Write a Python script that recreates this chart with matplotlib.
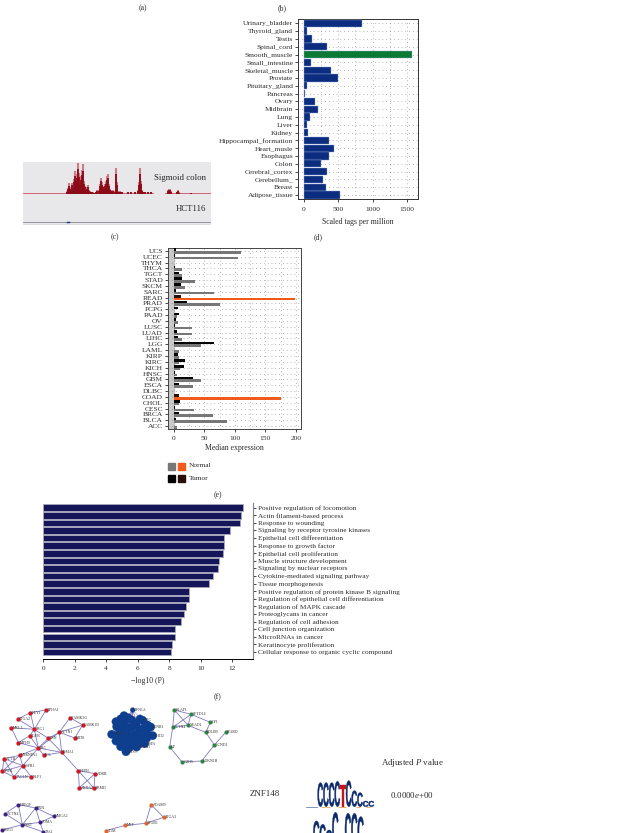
import matplotlib
matplotlib.use('Agg')
import matplotlib.pyplot as plt
import numpy as np
from matplotlib.font_manager import FontProperties
from matplotlib.patches import PathPatch
from matplotlib.textpath import TextPath
from matplotlib.transforms import Affine2D

plt.rcParams['font.family'] = 'Liberation Serif'
plt.rcParams['mathtext.fontset'] = 'custom'
plt.rcParams['mathtext.rm'] = 'Liberation Serif'
plt.rcParams['mathtext.it'] = 'Liberation Serif:italic'

W, H = 624, 833

# panel d: tissues
tissues = ['Urinary_bladder', 'Thyroid_gland', 'Testis', 'Spinal_cord', 'Smooth_muscle',
           'Small_intestine', 'Skeletal_muscle', 'Prostate', 'Pituitary_gland', 'Pancreas',
           'Ovary', 'Midbrain', 'Lung', 'Liver', 'Kidney', 'Hippocampal_formation',
           'Heart_musle', 'Esophagus', 'Colon', 'Cerebral_cortex', 'Cerebellum_', 'Breast',
           'Adipose_tissue']
tags = [845, 48, 121, 340, 1578, 102, 388, 500, 39, 10, 160, 204, 92, 48, 58, 364, 432,
        364, 248, 335, 282, 325, 519]

# panel c/d lower: cancer types
cancers = ['UCS', 'UCEC', 'THYM', 'THCA', 'TGCT', 'STAD', 'SKCM', 'SARC', 'READ', 'PRAD',
           'PCPG', 'PAAD', 'OV', 'LUSC', 'LUAD', 'LIHC', 'LGG', 'LAML', 'KIRP', 'KIRC',
           'KICH', 'HNSC', 'GBM', 'ESCA', 'DLBC', 'COAD', 'CHOL', 'CESC', 'BRCA', 'BLCA', 'ACC']
tumor = [4, 2, 1, 2, 9, 13, 12, 4, 12, 22, 7, 8, 4, 2, 5, 7, 66, 1, 7, 18, 16, 2, 32, 9, 1,
         9, 10, 2, 9, 3, 1]
normal = [110, 106, 0.5, 13, 14, 34, 19, 66, 198, 75, 1, 5, 7, 30, 30, 13, 44, 8, 8, 8, 10,
          6, 44, 31, 0.5, 176, 9, 33, 64, 88, 6]
highlight = ['READ', 'COAD']

# panel e: enrichment
terms = ['Positive regulation of locomotion', 'Actin filament-based process',
         'Response to wounding', 'Signaling by receptor tyrosine kinases',
         'Epithelial cell differentiation', 'Response to growth factor',
         'Epithelial cell proliferation', 'Muscle structure development',
         'Signaling by nuclear receptors', 'Cytokine-mediated signaling pathway',
         'Tissue morphogenesis', 'Positive regulation of protein kinase B signaling',
         'Regulation of epithelial cell differentiation', 'Regulation of MAPK cascade',
         'Proteoglycans in cancer', 'Regulation of cell adhesion', 'Cell junction organization',
         'MicroRNAs in cancer', 'Keratinocyte proliferation',
         'Cellular response to organic cyclic compound']
logp = [12.68, 12.59, 12.49, 11.87, 11.49, 11.47, 11.43, 11.15, 11.11, 10.77, 10.54, 9.29,
        9.28, 9.05, 8.93, 8.78, 8.37, 8.37, 8.18, 8.10]

# genome track: position along the region, signal height
track_pos = [44, 45, 46, 47, 48, 49, 50, 51, 52, 53, 54, 55, 56, 57, 58, 59, 60, 61, 62,
             63, 64, 65, 66, 67, 68, 69, 70, 71, 73, 74, 76, 77, 78, 79, 80, 81, 82, 83, 84,
             85, 86, 87, 88, 89, 90, 92, 93, 94, 95, 96, 97, 98, 99, 105, 108, 112, 115,
             116, 117, 118, 119, 120, 122, 125, 128, 145, 146, 147, 148, 154, 155, 156, 168]
track_sig = [.08, .18, .32, .2, .16, .34, .18, .45, .72, .5, .62, .98, .66, .35, .55, .75,
             .93, .4, .25, .14, .2, .28, .12, .08, .05, .06, .04, .03, .05, .1, .1, .3, .5,
             .35, .25, .18, .3, .4, .55, .62, .3, .15, .1, .06, .1, .08, .8, .35, .08, .05,
             .08, .06, .05, .05, .06, .05, .1, .35, .8, .4, .1, .06, .05, .06, .05, .1, .14,
             .14, .08, .06, .1, .04, .02]
track_gaps = [0, 130, 142, 188]

# network: name, x, y
red_nodes = [('EPHA1', 138, 45), ('HEY1', 91, 53), ('ITGA2', 53, 72), ('MKL1', 34, 98),
             ('SRC1', 103, 103), ('TGFB', 89, 122), ('CAMK2G', 210, 68), ('CAMK1D', 248, 90),
             ('ACTN1', 178, 112), ('KRT8', 224, 129), ('PXN', 145, 130), ('MYH9', 55, 143),
             ('SRC', 115, 159), ('PCL', 131, 181), ('LIMA1', 185, 172), ('HNRNPA1', 59, 181),
             ('ACTB', 12, 191), ('HSPB1', 68, 212), ('TPM1', 7, 229), ('TAGLN', 42, 246),
             ('NLF1', 93, 245), ('HEPH', 235, 227), ('ADRB', 285, 236), ('ANXA2', 238, 278),
             ('FRMD', 282, 280)]
red_edges = [(0, 1), (0, 4), (1, 2), (1, 4), (2, 4), (3, 4), (3, 11), (4, 5), (4, 10), (5, 11),
             (5, 12), (4, 12), (6, 7), (6, 8), (7, 9), (8, 9), (7, 8), (8, 10), (8, 14), (10, 12),
             (10, 14), (11, 12), (12, 13), (12, 14), (12, 15), (13, 14), (8, 12), (15, 16),
             (15, 17), (15, 18), (16, 17), (16, 18), (16, 19), (17, 18), (17, 19), (17, 20),
             (18, 19), (19, 20), (12, 17), (14, 21), (21, 22), (21, 23), (21, 24), (22, 23),
             (22, 24), (23, 24)]
blue_nodes = [('PFN1A', 398, 45), ('RFC', 428, 76), ('JUNB1', 452, 96), ('EHD2', 458, 122),
              ('HSPA', 434, 146), ('ITGA1', 410, 156), ('RPS3', 378, 170), ('ACTB', 335, 118),
              ('', 348, 80), ('', 372, 62), ('', 395, 75), ('', 420, 72), ('', 372, 85),
              ('', 395, 98), ('', 418, 104), ('', 440, 112), ('', 360, 105), ('', 380, 112),
              ('', 403, 120), ('', 425, 128), ('', 348, 138), ('', 368, 135), ('', 388, 140),
              ('', 408, 138), ('', 362, 155), ('', 388, 158), ('', 442, 90), ('', 352, 120),
              ('', 378, 95), ('', 432, 100), ('', 362, 72), ('', 384, 68), ('', 408, 88),
              ('', 350, 95), ('', 390, 125), ('', 415, 120), ('', 375, 150), ('', 400, 150),
              ('', 420, 145), ('', 356, 128), ('', 372, 122), ('', 440, 130)]
green_nodes = [('KLAP1', 523, 45), ('SETD14', 573, 58), ('OP1', 631, 82), ('ACTN4', 518, 97),
               ('YEAD1', 564, 91), ('PDLIM', 617, 112), ('UP', 509, 156), ('CCND1', 643, 150),
               ('CDH5', 546, 201), ('CDKN1B', 605, 198), ('PPARD', 677, 112)]
green_edges = [(0, 1), (0, 3), (0, 4), (1, 3), (1, 4), (3, 4), (1, 2), (2, 5), (5, 7), (7, 10),
               (3, 6), (6, 8), (8, 9), (9, 7), (5, 4)]
purple_nodes = [('HBEGF', 55, 329), ('RXN', 107, 339), ('ACTN4', 15, 356), ('HMGA2', 161, 364),
                ('SOMA', 120, 382), ('ESR1', 67, 389), ('BAG1', 7, 405), ('TJA1', 130, 411)]
purple_edges = [(0, 2), (0, 5), (0, 1), (1, 4), (1, 3), (3, 4), (2, 5), (4, 5), (1, 5), (5, 6),
                (5, 7), (4, 7)]
orange_nodes = [('ADAM9', 453, 329), ('ITGA3', 491, 367), ('ITGB1', 437, 385), ('MET', 376, 391),
                ('TGM', 318, 407)]
orange_edges = [(0, 1), (0, 2), (1, 2), (2, 3), (3, 4)]

# sequence logos: letter, height
logo_top = [('C', 72), ('C', 72), ('C', 72), ('C', 76), ('T', 64), ('C', 78), ('C', 48),
            ('C', 42), ('C', 17), ('C', 17)]
logo_bottom = [('C', 72), ('C', 62), ('C', 45), ('C', 98), ('', 0), ('C', 95), ('C', 95),
               ('C', 85)]


def axes_px(x0, y0, x1, y1):
    return fig.add_axes([x0 / W, 1 - y1 / H, (x1 - x0) / W, (y1 - y0) / H])


fig = plt.figure(figsize=(W / 100, H / 100), dpi=100)
txt = '#2b2b2b'
dots = (0, (1, 4.5))

for lab, x, y in [('(a)', 143, 8), ('(b)', 282, 8), ('(c)', 115, 237), ('(d)', 318, 237),
                  ('(e)', 218, 495), ('(f)', 218, 697)]:
    fig.text(x / W, 1 - y / H, lab, fontsize=5.6, ha='center', va='center', color=txt)

# genome track
ax = axes_px(23, 162, 211, 225)
ax.set_xlim(0, 188)
ax.set_ylim(-1.0, 1.0)
ax.axis('off')
ax.add_patch(plt.Rectangle((0, -1), 188, 2, color='#e8e8ea', zorder=0))
for g0, g1 in zip(track_gaps[::2], track_gaps[1::2]):
    ax.plot([g0, g1], [0.02, 0.02], color='#cf5060', lw=0.6)
ax.vlines(track_pos, 0.02, np.array(track_sig), color='#d07a86', lw=1.5)
ax.vlines(track_pos, 0.0, np.array(track_sig) * 0.78, color='#8a0a18', lw=1.3)
ax.plot([0, 188], [-0.9, -0.9], color='#707080', lw=0.5)
ax.plot([0, 188], [-0.99, -0.99], color='#8f8a80', lw=0.9)
ax.plot([44, 46], [-0.89, -0.89], color='#1a2a70', lw=1.0)
ax.text(183, 0.5, 'Sigmoid colon', fontsize=6.3, ha='right', va='center', color='#222222')
ax.text(183, -0.5, 'HCT116', fontsize=6.3, ha='right', va='center', color='#222222')

# tissue expression
ax = axes_px(298, 19, 418, 199)
y = np.arange(len(tissues))
colors = ['#0a7a35' if t == max(tags) else '#0c2c80' for t in tags]
ax.barh(y, tags, height=0.93, color=colors, edgecolor='#8ea6d6', linewidth=0.3, zorder=3)
ax.set_ylim(len(tissues) - 1 + 0.5, -0.55)
ax.set_xlim(-88, 1664)
ax.set_yticks(y, tissues)
ax.set_xticks([0, 500, 1000, 1500])
ax.set_xticks([250, 750, 1250], minor=True)
ax.grid(True, which='both', color='#777777', ls=dots, lw=0.5, zorder=0)
ax.tick_params(which='minor', length=0)
ax.tick_params(labelsize=5.4, length=2, width=0.5, pad=1.5, labelcolor=txt)
ax.tick_params(axis='x', pad=4)
for s in ax.spines.values():
    s.set_linewidth(0.7)
    s.set_color('#333333')
ax.set_xlabel('Scaled tags per million', fontsize=5.6, color=txt, labelpad=4)

# median expression
ax = axes_px(167.7, 248, 300.7, 429)
y = np.arange(len(cancers))
h = 0.45
ax.axvspan(-10, 0, color='#c9c9c9', zorder=1)
t_colors = ['#2a100a' if c in highlight else '#050505' for c in cancers]
n_colors = ['#f15a1a' if c in highlight else '#777777' for c in cancers]
ax.barh(y - h / 2, tumor, height=h, color=t_colors, zorder=3)
ax.barh(y + h / 2, normal, height=h, color=n_colors, zorder=3)
ax.set_ylim(len(cancers) - 1 + 0.5, -0.5)
ax.set_xlim(-10, 208)
ax.set_yticks(y, cancers)
ax.set_xticks([0, 50, 100, 150, 200])
ax.set_xticks([25, 75, 125, 175], minor=True)
ax.grid(True, which='both', color='#777777', ls=dots, lw=0.5, zorder=0)
ax.tick_params(which='minor', length=0)
ax.tick_params(labelsize=5.4, length=2, width=0.5, pad=1.5, labelcolor=txt)
ax.tick_params(axis='x', pad=3)
for s in ax.spines.values():
    s.set_linewidth(0.7)
    s.set_color('#444444')
ax.set_xlabel('Median expression', fontsize=5.6, color=txt, labelpad=2.5)

# legend of median expression
ax = axes_px(160, 455, 230, 487)
ax.set_xlim(160, 230)
ax.set_ylim(487, 455)
ax.axis('off')
for x0, yy, c in [(168, 462.5, '#777777'), (178, 462.5, '#f15a1a'), (168, 475, '#050505'),
                  (178, 475, '#2a100a')]:
    ax.add_patch(plt.Rectangle((x0, yy), 7, 7, color=c))
ax.text(189, 465.7, 'Normal', fontsize=5.3, va='center', color=txt)
ax.text(189, 478.3, 'Tumor', fontsize=5.3, va='center', color=txt)

# enrichment bars
ax = axes_px(43.3, 503.3, 252.7, 659)
y = np.arange(len(terms))
ax.barh(y, logp, height=0.86, color='#15155a', edgecolor='#a8a8bc', linewidth=0.6)
ax.set_ylim(len(terms) - 1 + 0.92, -0.58)
ax.set_xlim(0, 13.32)
ax.set_yticks(y, terms)
ax.yaxis.tick_right()
ax.set_xticks(range(0, 14, 2))
ax.spines['top'].set_visible(False)
ax.spines['left'].set_visible(False)
ax.spines['bottom'].set_linewidth(0.7)
ax.spines['right'].set_linewidth(0.9)
ax.spines['right'].set_color('#888888')
ax.tick_params(labelsize=5.2, length=2.2, width=0.5, pad=1.5, labelcolor=txt)
ax.tick_params(axis='x', pad=3)
ax.set_xlabel('\u2212log10 (P)', fontsize=5.6, color=txt, labelpad=4)

# networks
ax = axes_px(0, 695, 240, 833)
ax.set_xlim(0, 720)
ax.set_ylim(414, 0)
ax.axis('off')
edge_c = '#7f7ac4'
groups = [(red_nodes, red_edges, '#e0101c', 3.0), (green_nodes, green_edges, '#1f8a3c', 2.8),
          (purple_nodes, purple_edges, '#3d1a8c', 2.8), (orange_nodes, orange_edges, '#f0601c', 2.8)]
for nodes, edges, col, size in groups:
    for a, b in edges:
        ax.plot([nodes[a][1], nodes[b][1]], [nodes[a][2], nodes[b][2]], color=edge_c, lw=0.6,
                zorder=1)
    ax.scatter([n[1] for n in nodes], [n[2] for n in nodes], s=size ** 2, color=col,
               edgecolor='#777777', linewidth=0.2, zorder=2)
    for name, nx, ny in nodes:
        ax.text(nx + 5, ny, name, fontsize=2.8, va='center', color='#333333', zorder=3)

bx = [n[1] for n in blue_nodes]
by = [n[2] for n in blue_nodes]
for i in range(len(blue_nodes)):
    for j in range(i + 1, len(blue_nodes), 3):
        ax.plot([bx[i], bx[j]], [by[i], by[j]], color=edge_c, lw=0.3, zorder=1)
sizes = [12] + [36] * (len(blue_nodes) - 1)
ax.scatter(bx, by, s=sizes, color='#0e3f8f', edgecolor='#0e3f8f', linewidth=0.2, zorder=2)
for name, nx, ny in blue_nodes:
    if name:
        ax.text(nx + 8, ny, name, fontsize=2.8, va='center', color='#333333', zorder=3)

# motif table
ax = axes_px(220, 695, 460, 833)
ax.set_xlim(0, 720)
ax.set_ylim(414, 0)
ax.axis('off')
ax.text(578, 204, r'Adjusted $\mathit{P}$ value', fontsize=6.4, ha='center', va='center', color=txt)
ax.text(133, 297, 'ZNF148', fontsize=6.4, ha='center', va='center', color=txt)
ax.text(577, 300, r'0.0000$\mathit{e}$+00', fontsize=6.4, ha='center', va='center', color=txt)

fp = FontProperties(family='Liberation Sans', weight='bold')


def draw_letter(letter, x0, base, w, hgt, color):
    tp = TextPath((0, 0), letter, size=1, prop=fp)
    bb = tp.get_extents()
    tr = (Affine2D().translate(-bb.x0, -bb.y0).scale(w / bb.width, -hgt / bb.height)
          .translate(x0, base))
    ax.add_patch(PathPatch(tr.transform_path(tp), facecolor=color, edgecolor=color, lw=0.3,
                           transform=ax.transData))


x0 = 293
for letter, hgt in logo_top:
    w = 17
    if letter:
        draw_letter(letter, x0, 335, w - 1, hgt, '#c4141c' if letter == 'T' else '#0b2a6b')
    x0 += w
ax.plot([258, 292], [335, 335], color='#6f86b0', lw=0.6)
ax.plot([310, 325, 360, 372, 415, 445], [337] * 6, color='#f0a040', lw=0.0, marker='_', ms=3,
        mew=0.6)

x0 = 280
for letter, hgt in logo_bottom:
    w = 19
    if letter:
        draw_letter(letter, x0, 450, w - 1, hgt, '#0b2a6b')
    x0 += w

fig.savefig('out.png', dpi=100)
